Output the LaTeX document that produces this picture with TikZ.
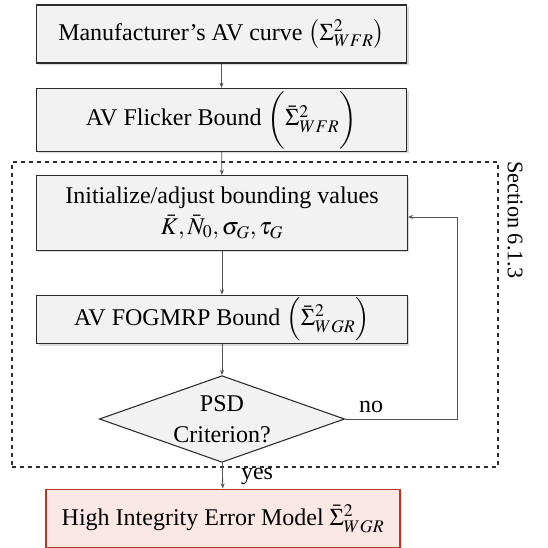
\documentclass[tikz,border=0pt]{standalone}
\usepackage{mathptmx}
\usepackage{fontspec}
\setmainfont{Liberation Serif}
\usetikzlibrary{shapes.geometric, arrows.meta, positioning, shadows}
\definecolor{boxgray}{HTML}{F2F2F2}
\definecolor{boxline}{HTML}{2B2B2B}
\definecolor{linkgray}{HTML}{555555}
\definecolor{outred}{HTML}{B5382C}
\definecolor{outpink}{HTML}{FBE8E5}

\begin{document}
\begin{tikzpicture}[
    x=0.75pt, y=-0.75pt,
    font=\fontsize{18}{23}\selectfont,
    stepbox/.style={rectangle, draw=#1, fill=boxgray, line width=0.9pt,
                minimum width=278pt, minimum height=42pt, inner sep=2pt, align=center,
                drop shadow={opacity=0.3, shadow xshift=1.5pt, shadow yshift=-1.5pt}},
    checkbox/.style={diamond, aspect=2.8, draw=boxline, fill=boxgray, line width=0.8pt,
                minimum width=184pt, minimum height=65pt, inner sep=0pt, align=center},
    frame/.style={rectangle, draw=boxline, dashed, line width=0.8pt},
    link/.style={-{Stealth[length=4pt, width=3pt]}, line width=0.6pt, color=linkgray}
]
\useasboundingbox (0,0) rectangle (547,548);

\node[stepbox=boxline, minimum height=43.5pt] (manuf) at (221.5,34)
    {Manufacturer's AV curve $\bigl(\Sigma^2_{WFR}\bigr)$};
\node[stepbox=boxline] (flicker) at (221.5,120)
    {AV Flicker Bound $\biggl(\bar{\Sigma}^2_{WFR}\biggr)$};

% loop of section 6.1.3
\node[frame, minimum width=364.5pt, minimum height=228.75pt] (loop) at (255,314.5) {};
\node[rotate=-90, font=\fontsize{16.7}{20}\selectfont] (sect) at (515,220) {Section 6.1.3};

\node[stepbox=boxline, minimum height=56pt] (init) at (222,213)
    {Initialize/adjust bounding values\\ $\bar{K}, \bar{N}_0, \sigma_G, \tau_G$};
\node[stepbox=boxline, minimum height=36pt] (fogmrp) at (222,319.5)
    {AV FOGMRP Bound $\Bigl(\bar{\Sigma}^2_{WGR}\Bigr)$};
\node[checkbox] (check) at (222,419) {PSD\\Criterion?};

\node[stepbox=outred, fill=outpink, minimum width=265.5pt, minimum height=44pt] (model) at (223,518.5)
    {High Integrity Error Model $\bar{\Sigma}^2_{WGR}$};

\draw[link] (manuf) -- (flicker);
\draw[link] (flicker) -- (init);
\draw[link] (init) -- (fogmrp);
\draw[link] (fogmrp) -- (check);
\draw[link] (check) -- (model);
\coordinate (turn) at (457,217);
\draw[link] (check.east) -| (turn) -- (init.east |- turn);

\node (nolbl) at (371,407) {no};
\node (yeslbl) at (257,476) {yes};
\end{tikzpicture}
\end{document}
